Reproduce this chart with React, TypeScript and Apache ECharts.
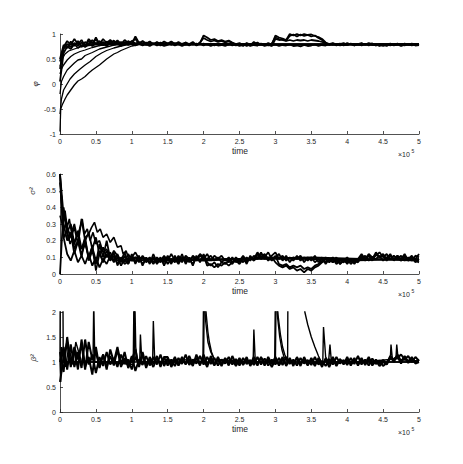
import React, { useEffect, useRef } from "react";
import * as echarts from "echarts";

// shared sample times (×10^5)
const T = [
  0, .05, .1, .15, .2, .25, .3, .35, .4, .45,
  .5, .55, .6, .65, .7, .75, .8, .85, .9, .95,
  1, 1.05, 1.1, 1.15, 1.2, 1.25, 1.3, 1.35, 1.4, 1.45,
  1.5, 1.55, 1.6, 1.65, 1.7, 1.75, 1.8, 1.85, 1.9, 1.95,
  2, 2.05, 2.1, 2.15, 2.2, 2.25, 2.3, 2.35, 2.4, 2.45,
  2.5, 2.55, 2.6, 2.65, 2.7, 2.75, 2.8, 2.85, 2.9, 2.95,
  3, 3.05, 3.1, 3.15, 3.2, 3.25, 3.3, 3.35, 3.4, 3.45,
  3.5, 3.55, 3.6, 3.65, 3.7, 3.75, 3.8, 3.85, 3.9, 3.95,
  4, 4.05, 4.1, 4.15, 4.2, 4.25, 4.3, 4.35, 4.4, 4.45,
  4.5, 4.55, 4.6, 4.65, 4.7, 4.75, 4.8, 4.85, 4.9, 4.95,
  5,
];

// ---- phi chains on T ----
const phi1 = [
  .5, .78, .72, .85, .76, .86, .74, .84, .79, .88,
  .8, .86, .77, .85, .8, .87, .79, .84, .78, .86,
  .8, .95, .82, .85, .78, .84, .8, .83, .77, .82,
  .79, .84, .78, .82, .8, .83, .77, .81, .79, .82,
  .97, .93, .88, .9, .86, .88, .85, .87, .83, .8,
  .82, .78, .81, .77, .84, .79, .81, .78, .82, .79,
  .97, .93, .91, .88, 1, .97, 1, .97, 1, .98,
  .99, .96, .94, .9, .83, .8, .82, .79, .81, .78,
  .82, .79, .8, .78, .81, .79, .82, .78, .8, .77,
  .8, .78, .81, .79, .8, .78, .81, .79, .8, .78,
  .8,
];
const phi2 = [
  .3, .7, .8, .74, .82, .77, .83, .75, .86, .78,
  .93, .79, .84, .78, .85, .8, .83, .78, .84, .79,
  .86, .81, .84, .79, .83, .78, .82, .79, .83, .8,
  .81, .78, .82, .79, .81, .78, .8, .78, .81, .79,
  .81, .78, .8, .77, .8, .79, .81, .78, .8, .77,
  .79, .8, .76, .79, .8, .77, .8, .78, .79, .76,
  .9, .88, .89, .86, .88, .86, .88, .87, .88, .86,
  .88, .87, .86, .84, .82, .79, .8, .78, .8, .77,
  .79, .8, .78, .8, .77, .79, .8, .78, .79, .76,
  .78, .8, .77, .79, .78, .8, .77, .79, .78, .8,
  .78,
];
const phi3 = [
  .05, .62, .75, .7, .8, .72, .78, .74, .8, .76,
  .82, .77, .8, .76, .82, .78, .8, .76, .81, .78,
  .8, .77, .8, .77, .79, .76, .8, .77, .79, .76,
  .78, .8, .77, .79, .76, .79, .78, .8, .77, .79,
  .77, .79, .76, .79, .77, .78, .76, .79, .77, .79,
  .76, .78, .8, .76, .78, .77, .79, .76, .78, .77,
  .79, .76, .78, .77, .79, .76, .77, .75, .78, .76,
  .77, .79, .76, .78, .77, .8, .78, .8, .77, .79,
  .78, .8, .77, .79, .78, .8, .77, .79, .77, .79,
  .76, .78, .79, .77, .79, .76, .78, .79, .77, .79,
  .79,
];
const phi4 = [
  .45, .74, .86, .78, .9, .8, .88, .76, .9, .82,
  .89, .8, .9, .82, .88, .81, .87, .8, .88, .82,
  .85, .9, .8, .86, .81, .85, .79, .84, .8, .85,
  .81, .85, .8, .84, .79, .83, .8, .84, .78, .83,
  .92, .88, .85, .87, .84, .86, .83, .85, .82, .78,
  .8, .76, .82, .79, .8, .83, .78, .8, .77, .81,
  .93, .9, .88, .87, .96, .99, .95, .99, .96, .98,
  .95, .97, .92, .88, .81, .78, .81, .77, .8, .82,
  .78, .81, .77, .8, .82, .78, .8, .81, .77, .8,
  .79, .76, .8, .78, .81, .77, .8, .78, .81, .77,
  .78,
];
// slowly converging phi chains [time, value]
const phiSlowA = [[0, -.95], [.01, -.5], [.03, -.42], [.07, -.3], [.1, -.22], [.15, -.12], [.2, -.02], [.25, .06], [.3, .1], [.35, .15], [.4, .22], [.45, .28], [.5, .33], [.55, .38], [.6, .44], [.65, .5], [.7, .55], [.75, .6], [.8, .63], [.85, .67], [.9, .7], [.95, .73], [1, .76], [1.1, .79], [1.5, .8], [2, .79], [3, .79], [4, .8], [5, .79]];
const phiSlowB = [[0, -.6], [.02, -.3], [.05, -.12], [.09, -.02], [.14, .1], [.2, .2], [.28, .3], [.35, .38], [.42, .45], [.5, .55], [.58, .62], [.65, .67], [.75, .72], [.85, .76], [.95, .79], [1.2, .8], [2, .8], [3, .78], [4, .79], [5, .8]];
const phiSlowC = [[0, -.2], [.02, .05], [.05, .15], [.1, .28], [.15, .35], [.2, .42], [.25, .48], [.3, .5], [.35, .57], [.45, .63], [.55, .7], [.65, .74], [.75, .78], [.9, .8], [1.5, .79], [2.5, .8], [3.5, .78], [5, .79]];
const phiSlowD = [[0, .2], [.02, .3], [.05, .38], [.1, .48], [.15, .55], [.2, .6], [.28, .65], [.35, .68], [.45, .73], [.55, .77], [.7, .8], [1.5, .8], [3, .8], [5, .8]];
const phiSlowE = [[0, .35], [.03, .5], [.07, .6], [.12, .66], [.2, .7], [.3, .75], [.45, .78], [.6, .8], [2, .8], [5, .79]];

// ---- sigma^2 chains on T ----
const sig1 = [
  .6, .22, .12, .08, .14, .07, .11, .06, .12, .05,
  .1, .04, .09, .06, .11, .07, .1, .05, .09, .06,
  .11, .07, .1, .06, .09, .07, .1, .06, .09, .07,
  .11, .07, .09, .06, .1, .07, .09, .06, .1, .08,
  .11, .05, .06, .04, .06, .05, .07, .05, .07, .08,
  .06, .09, .07, .1, .08, .12, .09, .11, .08, .1,
  .07, .05, .04, .05, .03, .04, .02, .03, .01, .03,
  .02, .04, .05, .07, .09, .07, .09, .06, .08, .07,
  .09, .06, .08, .07, .1, .08, .11, .09, .13, .1,
  .11, .08, .11, .09, .1, .08, .11, .08, .1, .07,
  .09,
];
const sig2 = [
  0, .4, .25, .3, .18, .26, .15, .2, .1, .16,
  .08, .13, .07, .12, .08, .11, .06, .1, .07, .12,
  .08, .1, .07, .11, .08, .1, .07, .1, .08, .11,
  .08, .12, .08, .1, .07, .11, .09, .1, .08, .11,
  .09, .12, .08, .11, .09, .11, .08, .1, .07, .1,
  .08, .11, .08, .1, .09, .13, .1, .12, .09, .11,
  .13, .09, .11, .08, .1, .08, .11, .08, .1, .08,
  .1, .07, .09, .07, .1, .08, .1, .07, .09, .08,
  .1, .07, .09, .08, .11, .09, .12, .1, .11, .13,
  .1, .12, .09, .11, .09, .11, .08, .1, .08, .11,
  .1,
];
const sig3 = [
  .6, .35, .28, .22, .28, .18, .33, .2, .25, .15,
  .22, .12, .16, .1, .13, .08, .12, .07, .11, .08,
  .1, .13, .09, .1, .07, .09, .06, .09, .07, .1,
  .06, .09, .07, .11, .08, .1, .07, .11, .09, .12,
  .1, .09, .11, .08, .1, .07, .09, .07, .1, .07,
  .09, .07, .1, .08, .11, .09, .13, .09, .1, .08,
  .11, .06, .05, .06, .04, .05, .04, .05, .03, .04,
  .03, .05, .06, .08, .07, .09, .07, .09, .06, .08,
  .07, .09, .07, .08, .09, .11, .08, .1, .09, .11,
  .08, .1, .11, .09, .11, .08, .1, .09, .11, .08,
  .07,
];
const sig4 = [
  .55, .3, .2, .25, .12, .2, .1, .22, .08, .14,
  .06, .18, .1, .2, .09, .14, .11, .08, .13, .06,
  .12, .06, .11, .05, .1, .06, .12, .07, .1, .05,
  .1, .06, .11, .07, .12, .06, .1, .05, .11, .07,
  .12, .07, .05, .07, .04, .07, .06, .08, .06, .09,
  .07, .1, .06, .11, .08, .1, .12, .1, .13, .09,
  .1, .12, .08, .11, .07, .1, .09, .11, .07, .1,
  .08, .11, .07, .1, .06, .09, .07, .1, .06, .09,
  .06, .09, .06, .09, .12, .09, .11, .08, .12, .1,
  .12, .09, .12, .08, .11, .09, .12, .08, .1, .09,
  .12,
];
const sigSlowA = [[0, .6], [.02, .45], [.04, .3], [.07, .38], [.1, .28], [.13, .33], [.16, .25], [.2, .3], [.24, .22], [.28, .28], [.31, .33], [.34, .24], [.38, .27], [.42, .2], [.46, .25], [.5, .18], [.55, .2], [.6, .13], [.65, .15], [.7, .1], [.75, .12], [.8, .08], [.9, .1], [1, .08], [1.5, .09], [2, .08], [3, .1], [4, .08], [5, .09]];
const sigSlowB = [[0, .35], [.03, .3], [.06, .22], [.1, .26], [.14, .18], [.18, .22], [.22, .16], [.26, .2], [.3, .15], [.35, .22], [.4, .24], [.44, .28], [.48, .31], [.52, .25], [.56, .27], [.6, .22], [.65, .24], [.7, .19], [.75, .22], [.8, .16], [.85, .17], [.88, .12], [.92, .14], [.96, .09], [1.05, .1], [1.5, .08], [2.5, .09], [3.5, .1], [5, .08]];
const sigSlowC = [[0, .5], [.02, .47], [.04, .25], [.08, .3], [.12, .2], [.16, .25], [.2, .15], [.25, .2], [.3, .12], [.35, .18], [.4, .1], [.45, .17], [.5, .02], [.55, .12], [.6, .08], [.65, .14], [.7, .09], [.75, .13], [.8, .05], [.85, .09], [.9, .06], [1, .09], [2, .09], [3, .09], [4, .09], [5, .09]];

// ---- beta^2 chains on T ----
const beta1 = [
  1, 1.3, .85, 1.35, .9, 1.2, .88, 1.45, .95, 1.15,
  .78, 1.1, .92, 1.2, .95, 1.08, .9, 1.15, .97, 1.05,
  .85, 1.1, .95, 1.2, .92, 1.05, .9, 1.08, .95, 1.1,
  .93, 1.05, .92, 1.08, .96, 1.15, .94, 1.05, .97, 1.12,
  .95, 1.1, .96, 1.08, .93, 1.05, .97, 1.1, .95, 1.06,
  .93, 1.08, .96, 1.04, .94, 1.1, .95, 1.07, .93, 1.05,
  .95, 1.08, .94, 1.1, .96, 1.05, .93, 1.08, .97, 1.04,
  .94, 1.1, .95, 1.02, .92, 1.06, .95, 1.1, .97, 1.04,
  .94, 1.08, .96, 1.12, .95, 1.05, .93, 1.07, .96, 1.03,
  .92, .98, 1.1, 1, 1.15, 1.02, 1.1, .98, 1.08, 1,
  1.05,
];
const beta2 = [
  .6, 1.1, 1.4, .9, 1.25, .85, 1.45, .9, 1.1, .75,
  1.3, .88, 1.15, .9, 1.12, .93, 1.25, .9, 1.08, .92,
  1.12, .82, 1.05, .94, 1.12, .93, 1.1, .95, 1.15, .92,
  1.08, .95, 1.1, .93, 1.05, .97, 1.12, .95, 1.08, .93,
  1.15, .96, 1.05, .93, 1.1, .95, 1.07, .93, 1.12, .96,
  1.08, .94, 1.05, .95, 1.1, .97, 1.08, .93, 1.1, .96,
  1.1, .93, 1.05, .95, 1.08, .92, 1.1, .95, 1.05, .93,
  1.08, .96, 1.05, .9, 1.08, .96, 1.1, .94, 1.06, .95,
  1.1, .93, 1.05, .96, 1.08, .94, 1.06, .93, 1.02, .92,
  1, .95, 1.08, 1.05, 1.12, .97, 1.12, 1, 1.1, .97,
  1,
];
const beta3 = [
  1.2, .8, 1.5, .95, 1.3, 1.05, 1.35, .85, 1.4, 1.05,
  1.2, .9, 1.15, .85, 1.25, 1, 1.3, .95, 1.2, .88,
  1.05, 1.25, .9, 1.15, .88, 1.1, .97, 1.12, .9, 1.1,
  1.1, .9, 1.05, .94, 1.1, .95, 1.05, .92, 1.15, .96,
  1.05, .9, 1.12, .95, 1.05, .92, 1.08, .96, 1.04, .92,
  1.05, .96, 1.1, .92, 1.05, .93, 1.1, .97, 1.05, .9,
  1.05, .95, 1.1, .92, 1.05, .97, 1.08, .92, 1.1, .95,
  1.05, .92, 1.08, .95, 1.05, .9, 1.06, .92, 1.05, .97,
  1.05, .96, 1.08, .93, 1.05, .97, 1.1, .95, 1.05, .96,
  1.04, .96, 1.12, 1.04, 1.08, 1.15, 1.05, 1.12, 1, 1.1,
  1.02,
];
const betaSpikeA = [[0, 1], [.003, 2.5], [.04, 2.5], [.045, 1.2], [.08, .9], [.12, 1.3], [.18, .95], [.22, 1.4], [.3, 1], [.46, 1.05], [.47, 2.2], [.485, 1], [.6, 1], [1.02, .95], [1.03, 2.3], [1.045, 1.1], [1.11, 1], [1.12, 1.55], [1.14, 1], [1.29, 1], [1.3, 1.82], [1.32, 1], [1.7, 1.05], [1.99, 1], [2, 2.4], [2.03, 1.8], [2.06, 1.4], [2.1, 1.2], [2.15, 1.05], [2.5, 1], [2.69, 1], [2.7, 1.65], [2.72, 1], [2.99, 1], [3, 2.4], [3.03, 1.9], [3.06, 1.5], [3.09, 1.25], [3.12, 1.1], [3.17, 1], [3.66, 1], [3.67, 1.7], [3.7, 1.1], [3.74, 1], [3.76, 1.35], [3.78, 1], [4.2, 1], [4.6, 1.05], [4.61, 1.35], [4.63, 1.05], [4.68, 1.1], [4.69, 1.35], [4.71, 1.05], [5, 1.02]];
const betaSpikeB = [[0, 1], [.01, .6], [.02, 1.3], [.05, 1], [.5, 1], [1.03, 1], [1.04, 2.4], [1.055, 1.3], [1.08, 1], [2, 1], [2.01, 2.4], [2.04, 1.9], [2.06, 1.6], [2.08, 1.4], [2.11, 1.2], [2.15, 1.05], [2.5, 1], [3, 1], [3.01, 2.4], [3.04, 1.9], [3.07, 1.55], [3.1, 1.3], [3.13, 1.15], [3.16, 1.05], [3.2, 1], [5, 1]];
const betaSpikeC = [[0, 1], [3.17, 1], [3.175, 2.6], [3.39, 2.6], [3.41, 2], [3.45, 1.75], [3.5, 1.5], [3.55, 1.3], [3.6, 1.12], [3.64, 1], [5, 1]];

const yTicks = [
  { min: -1, max: 1, interval: 0.5 },
  { min: 0, max: 0.6, interval: 0.1 },
  { min: 0, max: 2, interval: 0.5 },
];

const FONT = "Liberation Sans";
const AX = "#262626";

export default function App() {
  const ref = useRef<HTMLDivElement>(null);
  useEffect(() => {
    if (!ref.current) return;
    const chart = echarts.init(ref.current, undefined, { renderer: "svg" });
    const tops = [34, 174, 312];
    const onGrid = (vals: number[]) => T.map((t, i) => [t, vals[i]]);
    const line = (data: any, idx: number, width: number) => ({
      type: "line",
      xAxisIndex: idx,
      yAxisIndex: idx,
      data,
      symbol: "none",
      showSymbol: false,
      clip: true,
      silent: true,
      lineStyle: { color: "#000", width },
    });
    const series = [
      ...[phiSlowA, phiSlowB, phiSlowC, phiSlowD, phiSlowE].map((d) => line(d, 0, 1.3)),
      ...[phi1, phi2, phi3, phi4].map((v) => line(onGrid(v), 0, 1.8)),
      ...[sigSlowA, sigSlowB, sigSlowC].map((d) => line(d, 1, 1.6)),
      ...[sig1, sig2, sig3, sig4].map((v) => line(onGrid(v), 1, 1.8)),
      ...[beta1, beta2, beta3].map((v) => line(onGrid(v), 2, 2)),
      ...[betaSpikeA, betaSpikeB, betaSpikeC].map((d) => line(d, 2, 1.4)),
    ];
    const labels = ["φ", "σ²", "β²"];
    const labelPos = [[35, 84], [32, 191], [33, 358]];
    const graphic: any[] = [];
    tops.forEach((top, i) => {
      const bottom = top + 100;
      graphic.push({
        type: "text",
        x: labelPos[i][0],
        y: labelPos[i][1],
        rotation: Math.PI / 2,
        style: { text: labels[i], font: `italic 8px ${FONT}`, fill: AX, align: "center", verticalAlign: "middle" },
      });
      graphic.push({
        type: "text",
        x: 240,
        y: bottom + 16.5,
        style: { text: "time", font: `8.5px ${FONT}`, fill: AX, align: "center", verticalAlign: "middle" },
      });
      graphic.push({
        type: "text",
        x: 398,
        y: bottom + 20,
        style: { text: "×10", font: `7px ${FONT}`, fill: AX, align: "left", verticalAlign: "middle" },
      });
      graphic.push({
        type: "text",
        x: 411.5,
        y: bottom + 16.5,
        style: { text: "5", font: `5px ${FONT}`, fill: AX, align: "left", verticalAlign: "middle" },
      });
    });
    chart.setOption({
      animation: false,
      grid: tops.map((top) => ({ left: 60, top, width: 359, height: 100 })),
      xAxis: tops.map((_, i) => ({
        type: "value",
        gridIndex: i,
        min: 0,
        max: 5,
        interval: 0.5,
        axisLine: { show: true, onZero: false, lineStyle: { color: AX, width: 0.8 } },
        axisTick: { show: true, inside: true, length: 3, lineStyle: { color: AX, width: 0.8 } },
        axisLabel: { fontSize: 7, color: AX, margin: 4, fontFamily: FONT },
        splitLine: { show: false },
      })),
      yAxis: yTicks.map((y, i) => ({
        type: "value",
        gridIndex: i,
        min: y.min,
        max: y.max,
        interval: y.interval,
        axisLine: { show: true, onZero: false, lineStyle: { color: AX, width: 0.8 } },
        axisTick: { show: true, inside: true, length: 3, lineStyle: { color: AX, width: 0.8 } },
        axisLabel: { fontSize: 7, color: AX, margin: 4, fontFamily: FONT },
        splitLine: { show: false },
      })),
      series,
      graphic,
    });
    return () => chart.dispose();
  }, []);
  return (
    <div
      ref={ref}
      style={{ position: "absolute", left: 0, top: 0, width: 463, height: 464, background: "#fff" }}
    />
  );
}
